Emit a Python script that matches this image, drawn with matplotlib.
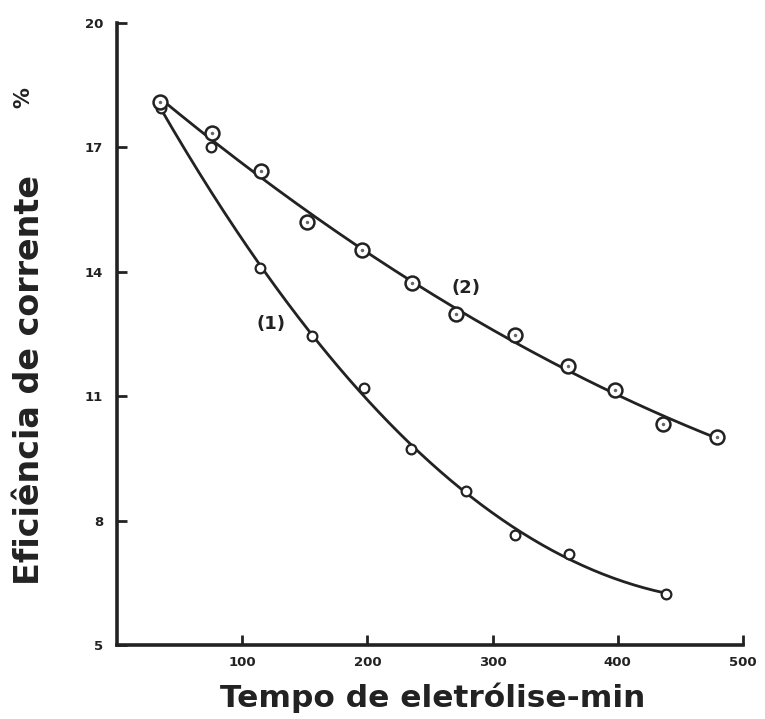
import numpy as np
import matplotlib.pyplot as plt

# curva (1)
t1 = [35, 114, 156, 197, 235, 279, 318, 361, 439]
ef1 = [17.95, 14.1, 12.45, 11.2, 9.73, 8.71, 7.65, 7.19, 6.23]
# ponto isolado (circulo pequeno em t=75)
t1_extra = [75]
ef1_extra = [17.0]

# curva (2)
t2 = [34, 76, 115, 152, 196, 236, 271, 318, 360, 398, 436, 479]
ef2 = [18.1, 17.35, 16.43, 15.2, 14.52, 13.73, 12.98, 12.47, 11.73, 11.15, 10.33, 10.02]

xticks = [100, 200, 300, 400, 500]
yticks = [5, 8, 11, 14, 17, 20]

fig = plt.figure(figsize=(7.65, 7.19), dpi=100)
ax = fig.add_axes([0.153, 0.103, 0.818, 0.865])
ink = '#222222'

# curvas suavizadas (ajuste aos pontos)
for t, ef, deg in [(t1, ef1, 3), (t2, ef2, 2)]:
    c = np.polyfit(t, ef, deg)
    tt = np.linspace(t[0], t[-1], 200)
    ax.plot(tt, np.polyval(c, tt), color=ink, lw=2.0, zorder=2)

ax.plot(t1 + t1_extra, ef1 + ef1_extra, 'o', ms=7, mfc='white', mec=ink, mew=1.6, zorder=3)
ax.plot(t2, ef2, 'o', ms=10, mfc='white', mec=ink, mew=1.8, zorder=3)
ax.plot(t2, ef2, 'o', ms=2.5, color='#666666', mew=0, zorder=4)

ax.text(123, 12.75, '(1)', fontsize=13, fontweight='bold', color=ink,
        ha='center', va='center', family='DejaVu Sans')
ax.text(279, 13.6, '(2)', fontsize=13, fontweight='bold', color=ink,
        ha='center', va='center', family='DejaVu Sans')

ax.set_xlim(0, 500)
ax.set_ylim(5, 20)
ax.set_xticks(xticks)
ax.set_yticks(yticks)
ax.set_xticklabels([str(v) for v in xticks], fontsize=9.5, fontweight='bold', color=ink)
ax.set_yticklabels([str(v) for v in yticks], fontsize=9.5, fontweight='bold', color=ink)
ax.tick_params(direction='in', length=7, width=2, color=ink, pad=8)
ax.tick_params(axis='y', pad=10)
for s in ['top', 'right']:
    ax.spines[s].set_visible(False)
for s in ['left', 'bottom']:
    ax.spines[s].set_linewidth(2.6)
    ax.spines[s].set_color(ink)

# rotulos dos eixos
fig.text(0.565, 0.016, 'Tempo de eletrólise-min', fontsize=22.5, fontweight='bold',
         family='DejaVu Sans', color=ink, ha='center', va='baseline')
fig.text(0.039, 0.4715, 'Eficiência de corrente', fontsize=24, fontweight='bold',
         family='DejaVu Sans', color=ink, ha='center', va='center', rotation=90)
fig.text(0.031, 0.865, '%', fontsize=15, fontweight='bold',
         family='DejaVu Sans', color=ink, ha='center', va='center', rotation=90)

fig.savefig('out.png', dpi=100)
